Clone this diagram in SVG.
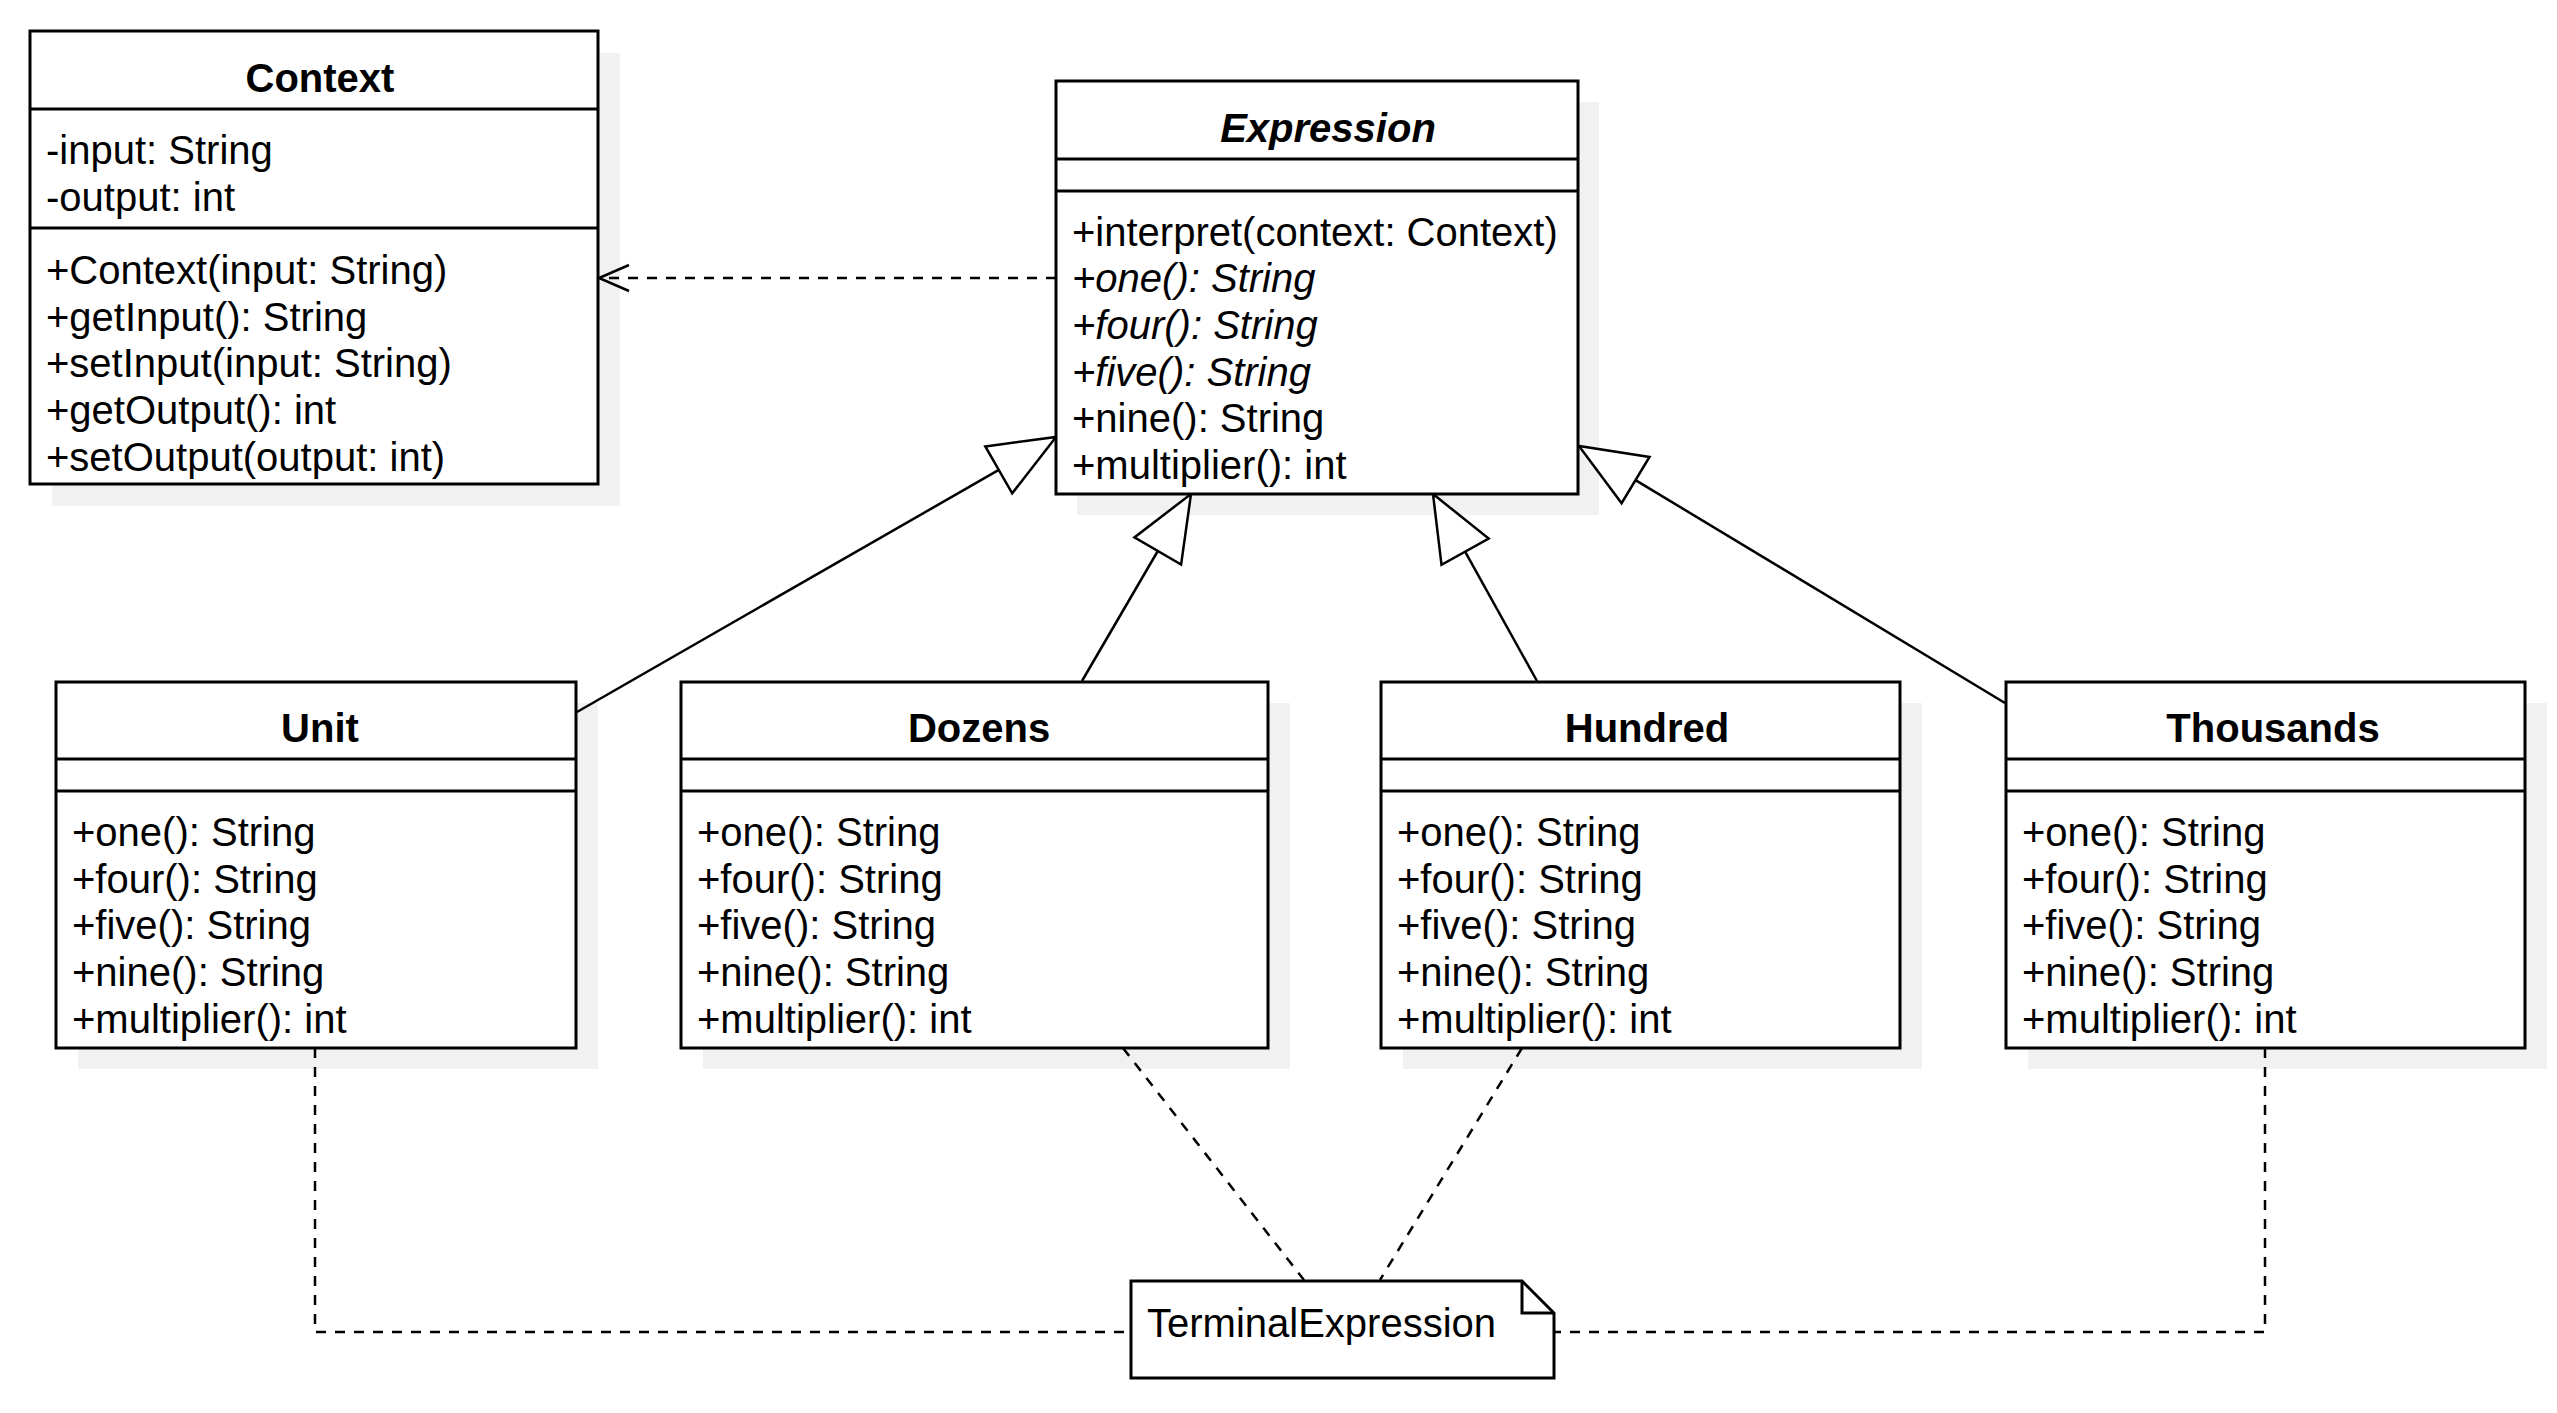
<svg xmlns="http://www.w3.org/2000/svg" width="2557" height="1413" viewBox="0 0 2557 1413">
<style>
.box{fill:#fff;stroke:#000;stroke-width:3}
.sh{fill:#f1f1f1;stroke:none}
.div{stroke:#000;stroke-width:3;fill:none}
.t{font-family:"Liberation Sans",Arial,Helvetica,sans-serif;font-size:40px;fill:#000}
.h{font-weight:bold;text-anchor:middle}
.i{font-style:italic}
.ln{stroke:#000;stroke-width:2.5;fill:none}
.dash{stroke:#000;stroke-width:2.5;fill:none;stroke-dasharray:10 9}
.tri{fill:#fff;stroke:#000;stroke-width:2.5;stroke-linejoin:miter}
</style>
<rect width="2557" height="1413" fill="#fff"/>

<g id="shadows">
<rect class="sh" x="52" y="53" width="568" height="453"/>
<rect class="sh" x="1077" y="102" width="522" height="413"/>
<rect class="sh" x="78" y="703" width="520" height="366"/>
<rect class="sh" x="703" y="703" width="587" height="366"/>
<rect class="sh" x="1403" y="703" width="519" height="366"/>
<rect class="sh" x="2028" y="703" width="519" height="366"/>
</g>

<g id="connectors">
<path class="dash" d="M1056,278 H600"/>
<path class="ln" d="M629,265 L599,278 L629,291"/>
<path class="ln" d="M577,712 L998.8,469.9"/>
<polygon class="tri" points="1056,437 1012.2,493.3 985.3,446.4"/>
<path class="ln" d="M1082,681 L1157.8,551"/>
<polygon class="tri" points="1191,494 1181.1,564.6 1134.4,537.4"/>
<path class="ln" d="M1537,681 L1465.1,551.7"/>
<polygon class="tri" points="1433,494 1488.7,538.6 1441.5,564.8"/>
<path class="ln" d="M2005,703 L1635.5,480.1"/>
<polygon class="tri" points="1579,446 1621.6,503.2 1649.5,457"/>
<path class="dash" d="M315,1048 V1332 H1131"/>
<path class="dash" d="M2265,1048 V1332 H1554"/>
<path class="dash" d="M1123,1048 L1304,1280"/>
<path class="dash" d="M1522,1048 L1380,1280"/>
</g>

<g id="Context">
<rect class="box" x="30" y="31" width="568" height="453"/>
<line class="div" x1="30" y1="109" x2="598" y2="109"/>
<line class="div" x1="30" y1="228" x2="598" y2="228"/>
<text class="t h" x="320" y="92">Context</text>
<text class="t" x="46" y="164">-input: String</text>
<text class="t" x="46" y="211">-output: int</text>
<text class="t" x="46" y="284">+Context(input: String)</text>
<text class="t" x="46" y="331">+getInput(): String</text>
<text class="t" x="46" y="377">+setInput(input: String)</text>
<text class="t" x="46" y="424">+getOutput(): int</text>
<text class="t" x="46" y="471">+setOutput(output: int)</text>
</g>

<g id="Expression">
<rect class="box" x="1056" y="81" width="522" height="413"/>
<line class="div" x1="1056" y1="159" x2="1578" y2="159"/>
<line class="div" x1="1056" y1="191" x2="1578" y2="191"/>
<text class="t h i" x="1328" y="142">Expression</text>
<text class="t" x="1072" y="246">+interpret(context: Context)</text>
<text class="t i" x="1072" y="292">+one(): String</text>
<text class="t i" x="1072" y="339">+four(): String</text>
<text class="t i" x="1072" y="386">+five(): String</text>
<text class="t" x="1072" y="432">+nine(): String</text>
<text class="t" x="1072" y="479">+multiplier(): int</text>
</g>

<g id="Unit">
<rect class="box" x="56" y="682" width="520" height="366"/>
<line class="div" x1="56" y1="759" x2="576" y2="759"/>
<line class="div" x1="56" y1="791" x2="576" y2="791"/>
<text class="t h" x="320" y="742">Unit</text>
<text class="t" x="72" y="846">+one(): String</text>
<text class="t" x="72" y="893">+four(): String</text>
<text class="t" x="72" y="939">+five(): String</text>
<text class="t" x="72" y="986">+nine(): String</text>
<text class="t" x="72" y="1033">+multiplier(): int</text>
</g>

<g id="Dozens">
<rect class="box" x="681" y="682" width="587" height="366"/>
<line class="div" x1="681" y1="759" x2="1268" y2="759"/>
<line class="div" x1="681" y1="791" x2="1268" y2="791"/>
<text class="t h" x="979" y="742">Dozens</text>
<text class="t" x="697" y="846">+one(): String</text>
<text class="t" x="697" y="893">+four(): String</text>
<text class="t" x="697" y="939">+five(): String</text>
<text class="t" x="697" y="986">+nine(): String</text>
<text class="t" x="697" y="1033">+multiplier(): int</text>
</g>

<g id="Hundred">
<rect class="box" x="1381" y="682" width="519" height="366"/>
<line class="div" x1="1381" y1="759" x2="1900" y2="759"/>
<line class="div" x1="1381" y1="791" x2="1900" y2="791"/>
<text class="t h" x="1647" y="742">Hundred</text>
<text class="t" x="1397" y="846">+one(): String</text>
<text class="t" x="1397" y="893">+four(): String</text>
<text class="t" x="1397" y="939">+five(): String</text>
<text class="t" x="1397" y="986">+nine(): String</text>
<text class="t" x="1397" y="1033">+multiplier(): int</text>
</g>

<g id="Thousands">
<rect class="box" x="2006" y="682" width="519" height="366"/>
<line class="div" x1="2006" y1="759" x2="2525" y2="759"/>
<line class="div" x1="2006" y1="791" x2="2525" y2="791"/>
<text class="t h" x="2273" y="742">Thousands</text>
<text class="t" x="2022" y="846">+one(): String</text>
<text class="t" x="2022" y="893">+four(): String</text>
<text class="t" x="2022" y="939">+five(): String</text>
<text class="t" x="2022" y="986">+nine(): String</text>
<text class="t" x="2022" y="1033">+multiplier(): int</text>
</g>

<g id="TerminalExpression">
<path class="box" d="M1131,1281 H1522 L1554,1313 V1378 H1131 Z"/>
<path class="div" d="M1522,1281 V1313 H1554"/>
<text class="t" x="1147" y="1337">TerminalExpression</text>
</g>
</svg>
